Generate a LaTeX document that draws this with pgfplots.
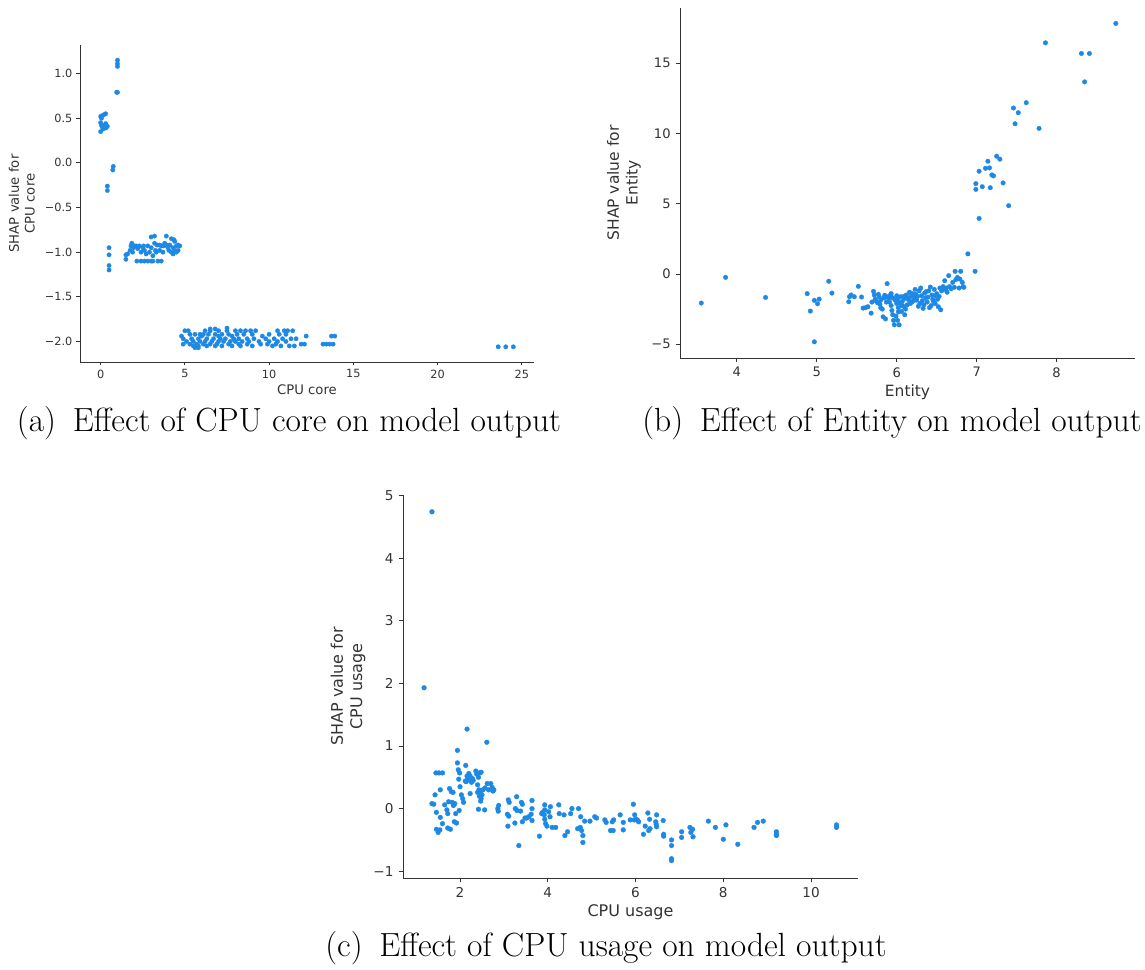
\documentclass[border=0pt]{standalone}
\usepackage{pgfplots}
\pgfplotsset{compat=1.18}
\usepackage{fontspec}
\newfontfamily\djv{DejaVu Sans}
\definecolor{shapblue}{HTML}{1E88E5}
\definecolor{axgray}{HTML}{333333}

\pgfplotsset{
  shapdep/.style={
    scale only axis,
    anchor=south west,
    axis lines*=left,
    axis line style={axgray, line width=0.9pt, -},
    tick style={axgray, line width=0.9pt},
    tick align=outside,
    clip=false,
    ylabel style={align=center, anchor=south, inner sep=0pt},
    xlabel style={anchor=base, inner sep=0pt},
    xticklabel style={anchor=north, inner sep=0pt, text=axgray},
    yticklabel style={anchor=east, inner sep=0pt, text=axgray},
    label style={text=axgray},
  },
  shapdots/.style={only marks, mark=*, color=shapblue, line width=0.3pt,
    mark options={solid}},
}

\begin{document}
\begin{tikzpicture}[x=1pt,y=1pt]
\path[use as bounding box] (0,0) rectangle (1145,969);

% ---------------- (a) CPU core ----------------
\begin{axis}[shapdep,
  at={(80pt,607pt)}, width=454pt, height=317pt,
  xmin=-1.225, xmax=25.725, ymin=-2.23, ymax=1.32,
  major tick length=3.5pt,
  xtick={0,5,10,15,20,25}, xticklabels={0,5,10,15,20,25},
  ytick={-2,-1.5,-1,-0.5,0,0.5,1},
  yticklabels={−2.0,−1.5,−1.0,−0.5,0.0,0.5,1.0},
  tick label style={font=\djv\fontsize{11.3}{13}\selectfont},
  xticklabel style={yshift=-4pt}, yticklabel style={xshift=-4pt},
  label style={font=\djv\fontsize{13.2}{15.8}\selectfont},
  xlabel={CPU core}, xlabel style={at={(axis description cs:0.5,0)}, yshift=-33pt},
  ylabel={SHAP value for\\CPU core},
  ylabel style={at={(axis description cs:-0.0991,0.5)}},
]
\addplot[shapdots, mark size=2.2pt] coordinates {
(0.0,0.52) (0.05,0.50) (0.1,0.53) (0.2,0.54) (0.3,0.55) (0.0,0.45) (0.05,0.42)
(0.1,0.40) (0.25,0.42) (0.3,0.39) (0.35,0.40) (0.4,0.41) (0.0,0.35) (0.15,0.38) (0.3,0.44)
(1.0,1.15) (1.0,1.11) (1.0,1.08) (0.95,0.79) (1.0,0.79)
(0.75,-0.04) (0.72,-0.08) (0.4,-0.26) (0.4,-0.31)
(0.5,-0.95) (0.5,-1.03) (0.5,-1.15) (0.5,-1.20)
(1.5,-1.08) (1.5,-1.03) (1.6,-1.02) (1.75,-0.98) (1.8,-0.93) (1.85,-0.90) (1.9,-1.0)
(2.0,-0.93) (2.1,-0.93) (2.2,-0.96) (2.3,-0.93) (2.4,-1.1) (2.4,-1.0) (2.5,-0.95)
(2.6,-0.98) (2.7,-1.02) (2.8,-0.93) (2.8,-1.1) (2.9,-1.0) (3.0,-0.83) (3.0,-0.95)
(3.1,-1.04) (3.1,-1.1) (3.2,-0.82) (3.2,-0.90) (3.25,-0.98) (3.3,-1.0) (3.4,-1.1)
(3.5,-0.92) (3.5,-0.98) (3.6,-0.93) (3.6,-1.1) (3.7,-1.0) (3.8,-0.90) (3.9,-0.92)
(3.9,-0.82) (4.0,-0.95) (4.1,-0.92) (4.2,-0.85) (4.2,-1.0) (4.3,-0.95) (4.3,-1.02)
(4.4,-0.88) (4.4,-0.98) (4.5,-0.93) (4.5,-1.0) (4.6,-0.92) (4.6,-0.98) (4.7,-0.93)
(2.15,-1.1) (2.6,-1.1) (3.0,-1.1) (1.95,-0.95) (2.55,-0.93) (3.35,-0.92) (3.75,-0.93)
(4.05,-0.98) (4.35,-0.86)
(5.0,-1.88) (5.2,-1.88) (6.2,-1.88) (6.5,-1.88) (7.0,-1.88) (7.5,-1.88) (8.0,-1.88)
(8.3,-1.88) (8.6,-1.88) (8.9,-1.88) (9.2,-1.88) (10.5,-1.88) (10.9,-1.88) (11.1,-1.88) (11.4,-1.88)
(7.5,-1.85) (6.5,-1.86) (6.8,-1.86)
(5.3,-1.92) (5.6,-1.92) (5.9,-1.92) (6.1,-1.92) (6.4,-1.92) (6.8,-1.92) (7.2,-1.92)
(7.6,-1.92) (8.1,-1.92) (8.5,-1.92) (9.0,-1.92) (10.0,-1.92) (10.6,-1.92) (11.0,-1.92)
(4.8,-1.94) (6.0,-1.94) (7.0,-1.94) (7.8,-1.94) (9.6,-1.94) (12.2,-1.94) (13.7,-1.94) (13.9,-1.94)
(4.9,-1.97) (5.4,-1.97) (5.8,-1.97) (6.3,-1.97) (6.7,-1.97) (7.1,-1.97) (7.4,-1.97)
(7.9,-1.97) (8.2,-1.97) (8.7,-1.97) (9.1,-1.97) (9.8,-1.97) (10.3,-1.97) (10.8,-1.97)
(11.3,-1.97) (11.6,-1.97)
(5.1,-2.0) (5.5,-2.0) (5.9,-2.0) (6.2,-2.0) (6.6,-2.0) (7.0,-2.0) (7.3,-2.0) (7.7,-2.0)
(8.0,-2.0) (8.4,-2.0) (8.8,-2.0) (9.4,-2.0) (10.0,-2.0) (10.5,-2.0) (11.0,-2.0)
(4.9,-2.03) (5.3,-2.03) (5.7,-2.03) (6.1,-2.03) (6.5,-2.03) (6.9,-2.03) (7.6,-2.03)
(8.2,-2.03) (8.7,-2.03) (9.5,-2.03) (9.9,-2.03) (10.4,-2.03) (11.9,-2.03) (12.1,-2.03)
(13.2,-2.03) (13.4,-2.03) (13.6,-2.03) (13.8,-2.03)
(5.5,-2.05) (5.8,-2.05) (6.3,-2.05) (6.8,-2.05) (7.2,-2.05) (7.8,-2.05) (8.3,-2.05)
(9.0,-2.05) (10.2,-2.05) (10.7,-2.05) (11.2,-2.05) (11.5,-2.05)
(5.6,-2.07) (5.8,-2.07)
(23.6,-2.06) (24.05,-2.06) (24.5,-2.06)
};
\end{axis}

% ---------------- (b) Entity ----------------
\begin{axis}[shapdep,
  at={(680pt,611pt)}, width=455pt, height=350pt,
  xmin=3.29, xmax=8.98, ymin=-5.98, ymax=18.93,
  major tick length=4.2pt,
  xtick={4,5,6,7,8}, xticklabels={4,5,6,7,8},
  ytick={-5,0,5,10,15}, yticklabels={−5,0,5,10,15},
  tick label style={font=\djv\fontsize{13.1}{15.5}\selectfont},
  xticklabel style={yshift=-5pt}, yticklabel style={xshift=-5pt},
  label style={font=\djv\fontsize{15.5}{18.6}\selectfont},
  xlabel={Entity}, xlabel style={at={(axis description cs:0.5,0)}, yshift=-39pt},
  ylabel={SHAP value for\\Entity},
  ylabel style={at={(axis description cs:-0.0857,0.5)}},
]
\addplot[shapdots, mark size=2.3pt] coordinates {
(3.556,-2.07) (3.86,-0.24) (4.36,-1.67) (4.88,-1.40) (4.92,-2.64) (4.97,-4.83)
(4.97,-1.88) (5.01,-2.12) (5.03,-1.79) (5.15,-0.52) (5.19,-1.36)
(5.40,-1.98) (5.41,-1.62) (5.43,-1.50) (5.47,-1.62) (5.52,-0.88) (5.56,-1.64)
(5.58,-2.43) (5.61,-2.40) (5.64,-2.33) (5.68,-2.79) (5.71,-1.24) (5.72,-1.50)
(5.74,-1.90) (5.76,-2.05) (5.78,-1.62) (5.80,-1.86) (5.80,-2.40) (5.82,-2.50)
(5.83,-3.05) (5.85,-1.52) (5.86,-3.20) (5.88,-0.69) (5.89,-1.62) (5.90,-1.75)
(5.91,-2.00) (5.92,-1.52) (5.93,-2.25) (5.94,-2.60) (5.95,-2.90) (5.96,-3.30)
(5.97,-3.62) (5.98,-1.86) (6.00,-2.10) (6.01,-1.80) (6.02,-2.40) (6.03,-3.62)
(6.04,-2.05) (6.05,-1.62) (6.06,-2.67) (6.07,-1.95) (6.08,-2.30) (6.10,-1.75)
(6.12,-1.50) (6.13,-2.20) (6.15,-1.85) (6.16,-1.30) (6.18,-1.60) (6.19,-2.00)
(6.20,-1.40) (6.22,-1.65) (6.23,-1.10) (6.25,-1.86) (6.27,-2.30) (6.28,-1.20)
(6.30,-1.00) (6.31,-1.55) (6.33,-2.45) (6.35,-1.35) (6.36,-1.70) (6.38,-2.00)
(6.40,-1.20) (6.41,-2.40) (6.42,-0.93) (6.44,-1.50) (6.45,-1.80) (6.47,-1.10)
(6.48,-2.10) (6.50,-1.40) (6.52,-2.33) (6.53,-1.60) (6.55,-2.55) (6.56,-1.20)
(6.58,-0.90) (6.60,-0.48) (6.61,-1.10) (6.63,-1.30) (6.65,-0.12) (6.66,-0.90)
(6.68,-1.05) (6.70,-0.60) (6.72,-0.95) (6.73,0.19) (6.74,-0.40) (6.76,-0.25)
(6.78,-1.00) (6.79,-0.36) (6.80,0.19) (6.82,-0.60) (6.83,-0.90) (6.84,-0.95)
(5.87,-2.00) (5.95,-1.70) (6.00,-1.55) (6.02,-2.70) (6.09,-1.60) (6.11,-2.50)
(6.14,-1.70) (6.17,-2.10) (6.21,-1.90) (6.24,-1.45) (6.26,-1.60) (6.29,-2.10)
(6.32,-1.90) (6.34,-2.20) (6.37,-1.25) (6.39,-1.65) (6.43,-2.25) (6.46,-1.95)
(6.49,-1.55) (6.51,-1.80) (6.54,-1.00) (6.57,-1.15) (6.62,-1.00) (5.69,-2.00)
(5.73,-1.80) (5.77,-1.45) (5.79,-2.15) (5.84,-1.70) (5.99,-3.00) (6.01,-3.30)
(5.93,-1.40) (6.06,-2.20) (6.10,-2.90)
(6.89,1.43) (6.98,0.19) (6.99,6.43) (6.99,6.02) (7.03,3.95) (7.03,7.31) (7.07,6.21)
(7.11,7.52) (7.14,8.02) (7.16,7.55) (7.17,6.14) (7.19,7.05) (7.21,6.98) (7.25,8.38)
(7.29,8.17) (7.33,6.48) (7.40,4.86) (7.46,11.81) (7.48,10.69) (7.52,11.48)
(7.62,12.19) (7.78,10.36) (7.86,16.45) (8.31,15.69) (8.35,13.67) (8.41,15.69) (8.74,17.83)
};
\end{axis}

% ---------------- (c) CPU usage ----------------
\begin{axis}[shapdep,
  at={(403pt,91pt)}, width=455pt, height=383pt,
  xmin=0.70, xmax=11.07, ymin=-1.108, ymax=5.008,
  major tick length=4.3pt,
  xtick={2,4,6,8,10}, xticklabels={2,4,6,8,10},
  ytick={-1,0,1,2,3,4,5}, yticklabels={−1,0,1,2,3,4,5},
  tick label style={font=\djv\fontsize{13.6}{16}\selectfont},
  xticklabel style={yshift=-5pt}, yticklabel style={xshift=-5pt},
  label style={font=\djv\fontsize{16}{19.2}\selectfont},
  xlabel={CPU usage}, xlabel style={at={(axis description cs:0.5,0)}, yshift=-38pt},
  ylabel={SHAP value for\\CPU usage},
  ylabel style={at={(axis description cs:-0.082,0.5)}},
]
\addplot[shapdots, mark size=2.4pt] coordinates {
(1.36,4.74) (1.18,1.93) (2.16,1.27) (2.61,1.06) (1.94,0.93)
(1.45,0.57) (1.52,0.57) (1.60,0.57) (1.43,0.22) (1.55,0.30) (1.36,0.08) (1.40,0.07)
(1.46,-0.06) (1.46,-0.33) (1.54,-0.34) (1.50,-0.38) (1.55,-0.14) (1.60,-0.24)
(1.65,0.06) (1.70,-0.02) (1.74,0.11) (1.72,-0.08) (1.72,-0.31) (1.78,-0.33)
(1.76,0.32) (1.80,0.27) (1.84,0.26) (1.85,0.05) (1.90,-0.08) (1.88,0.08) (1.82,0.10)
(1.87,-0.21) (1.92,-0.23) (1.94,0.73) (1.96,0.62) (1.99,0.57) (1.97,0.47)
(2.00,0.35) (2.03,0.22) (2.06,0.16) (2.08,0.10) (1.98,-0.03)
(2.13,0.69) (2.16,0.52) (2.14,0.43) (2.18,0.50) (2.20,0.56) (2.22,0.47) (2.23,0.52)
(2.12,0.44) (2.17,0.46) (2.23,0.24) (2.26,0.42) (2.28,0.48) (2.30,0.45)
(2.36,0.60) (2.38,0.55) (2.42,0.50) (2.45,0.57) (2.48,0.58)
(2.40,0.38) (2.43,0.30) (2.46,0.25) (2.40,0.26) (2.44,0.20) (2.48,0.16) (2.50,0.22)
(2.52,0.30) (2.47,0.12) (2.42,-0.01) (2.56,-0.02) (2.57,0.33) (2.62,0.40) (2.65,0.30)
(2.70,0.40) (2.73,0.34) (2.75,0.28) (2.77,0.30) (2.86,0.00) (2.87,-0.04) (2.88,0.05)
(3.10,0.14) (3.12,0.10) (3.08,-0.09) (3.11,-0.12) (3.09,-0.28)
(3.29,0.19) (3.26,0.00) (3.30,-0.03) (3.38,-0.04) (3.34,-0.59) (3.40,0.10) (3.42,0.07)
(3.42,-0.21) (3.25,-0.23) (3.48,-0.15) (3.52,-0.15)
(3.64,0.13) (3.64,0.00) (3.62,-0.09) (3.64,-0.19) (3.57,-0.13)
(3.81,-0.44) (3.86,-0.08) (3.88,-0.06)
(3.93,0.06) (3.93,-0.02) (3.92,-0.10) (3.93,-0.17) (3.95,-0.24) (3.98,-0.28)
(4.02,-0.05) (4.06,0.03) (4.05,-0.13) (4.10,-0.30) (4.18,-0.30)
(4.25,0.06) (4.26,-0.08) (4.37,-0.10) (4.39,-0.43) (4.45,-0.37) (4.55,0.00) (4.52,-0.08)
(4.70,0.00) (4.74,-0.30) (4.68,-0.32) (4.77,-0.35) (4.80,-0.43) (4.80,-0.54) (4.75,-0.13)
(4.84,-0.20) (4.96,-0.20) (5.07,-0.13) (5.11,-0.15) (5.30,-0.18) (5.33,-0.22)
(5.43,-0.35) (5.47,-0.21) (5.50,-0.18) (5.49,-0.35) (5.65,-0.10) (5.72,-0.22) (5.72,-0.34)
(5.88,-0.18) (5.95,0.07) (5.97,-0.18) (5.98,-0.10) (6.02,-0.17) (6.05,-0.19) (6.07,-0.21)
(6.18,-0.41) (6.22,-0.28) (6.28,-0.07) (6.32,-0.17) (6.33,-0.32) (6.30,-0.35)
(6.48,-0.10) (6.48,-0.29) (6.46,-0.21) (6.47,-0.25) (6.63,-0.19) (6.64,-0.41) (6.64,-0.44)
(6.82,-0.50) (6.82,-0.59) (6.82,-0.80) (6.82,-0.83) (7.05,-0.37) (7.05,-0.46)
(7.24,-0.30) (7.26,-0.38) (7.30,-0.33) (7.31,-0.45) (7.66,-0.20) (7.82,-0.30)
(8.00,-0.49) (8.06,-0.26) (8.33,-0.57) (8.70,-0.30) (8.78,-0.22) (8.91,-0.20)
(9.21,-0.37) (9.21,-0.41) (9.21,-0.43) (10.58,-0.26) (10.58,-0.30)
};
\end{axis}

% sub-figure captions
\node[anchor=base, font=\fontsize{33.5}{38}\selectfont] at (289,537) {(a)\enspace Effect of CPU core on model output};
\node[anchor=base, font=\fontsize{33.5}{38}\selectfont] at (892,537) {(b)\enspace Effect of Entity on model output};
\node[anchor=base, font=\fontsize{33.5}{38}\selectfont] at (606,13) {(c)\enspace Effect of CPU usage on model output};
\end{tikzpicture}
\end{document}
